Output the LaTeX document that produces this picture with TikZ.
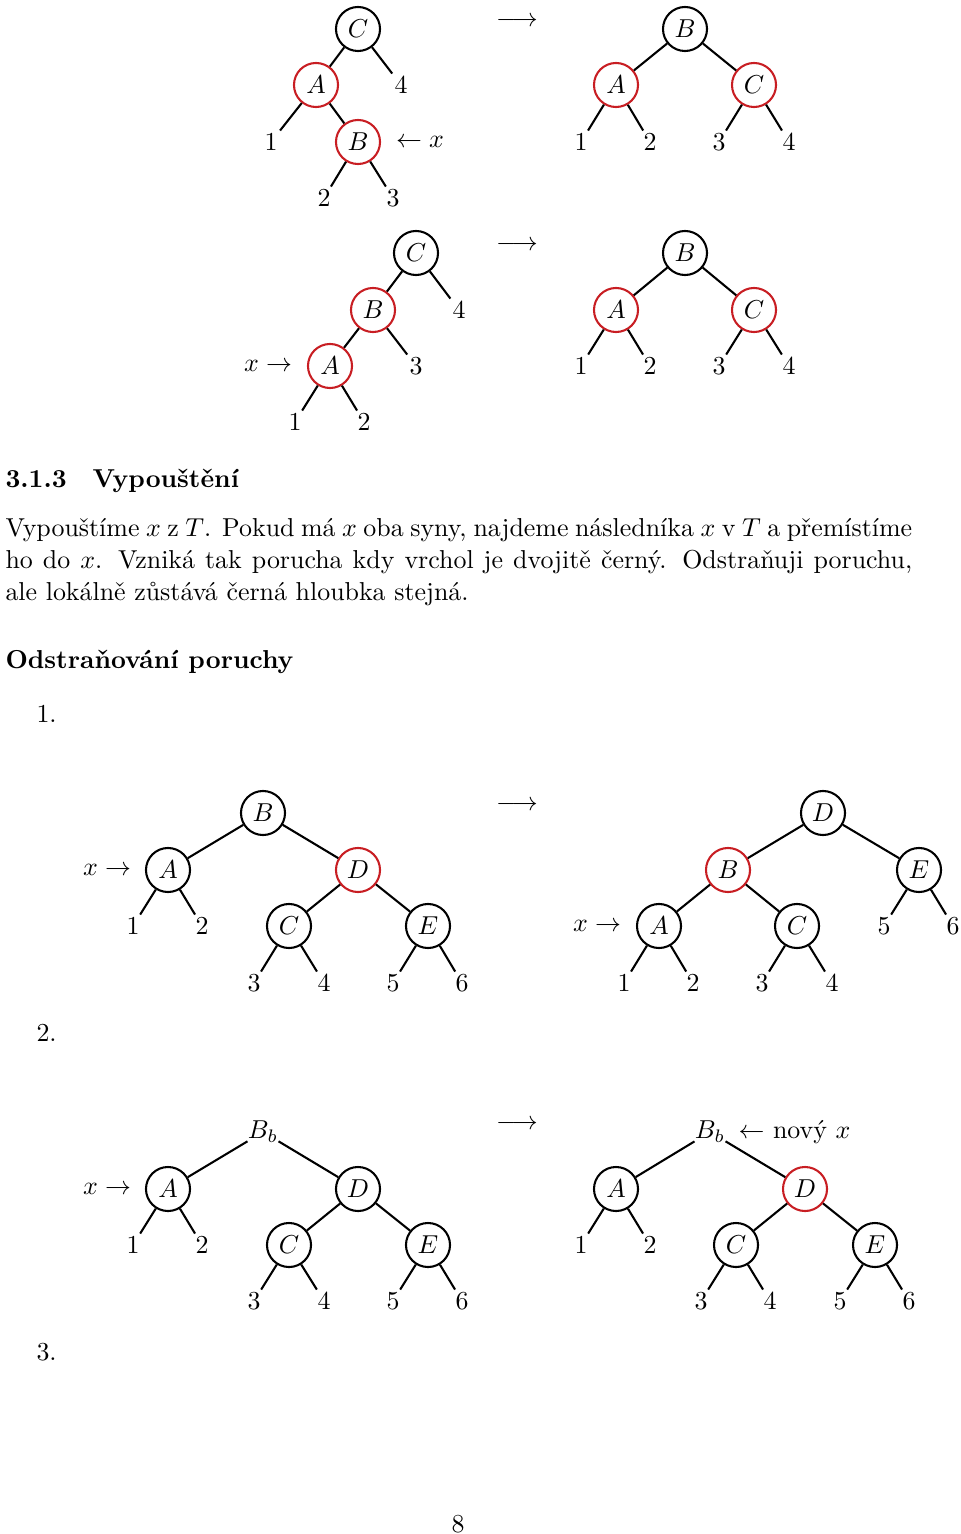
\documentclass[tikz,border=0pt]{standalone}
\usepackage{fontspec}
\definecolor{nodered}{RGB}{200,30,35}
\begin{document}
\begin{tikzpicture}[x=0.386pt,y=-0.386pt,
  every node/.style={inner sep=0pt, font=\fontsize{10}{12}\selectfont},
  bn/.style={circle, draw=black, line width=0.8pt, minimum size=17pt, inner sep=0pt},
  rn/.style={bn, draw=nodered},
  lf/.style={inner sep=1pt},
  ed/.style={line width=0.8pt},
  txt/.style={anchor=base west},
  hd/.style={anchor=base west, font=\fontsize{10}{12}\selectfont\bfseries}]
\useasboundingbox (0,0) rectangle (960,1534);

% ---------- tree 1 left
\node[bn] (a1c) at (358,29) {$C$};
\node[rn] (a1a) at (316,85) {$A$};
\node[lf] (a1l4) at (401,85) {$4$};
\node[lf] (a1l1) at (271,142) {$1$};
\node[rn] (a1b) at (358,142) {$B$};
\node (a1x) at (420,142) {$\leftarrow x$};
\node[lf] (a1l2) at (324,198) {$2$};
\node[lf] (a1l3) at (393,198) {$3$};
\draw[ed] (a1c)--(a1a) (a1c)--(a1l4) (a1a)--(a1l1) (a1a)--(a1b) (a1b)--(a1l2) (a1b)--(a1l3);
\node (ar1) at (517,22) {$\longrightarrow$};
% ---------- tree 1 right
\node[bn] (b1b) at (685,29) {$B$};
\node[rn] (b1a) at (616,85) {$A$};
\node[rn] (b1c) at (754,85) {$C$};
\node[lf] (b1l1) at (581,142) {$1$};
\node[lf] (b1l2) at (650,142) {$2$};
\node[lf] (b1l3) at (719,142) {$3$};
\node[lf] (b1l4) at (789,142) {$4$};
\draw[ed] (b1b)--(b1a) (b1b)--(b1c) (b1a)--(b1l1) (b1a)--(b1l2) (b1c)--(b1l3) (b1c)--(b1l4);

% ---------- tree 2 left
\node[bn] (a2c) at (416,253) {$C$};
\node[rn] (a2b) at (373,310) {$B$};
\node[lf] (a2l4) at (459,310) {$4$};
\node (a2x) at (268,366) {$x\rightarrow$};
\node[rn] (a2a) at (330,366) {$A$};
\node[lf] (a2l3) at (416,366) {$3$};
\node[lf] (a2l1) at (295,422) {$1$};
\node[lf] (a2l2) at (364,422) {$2$};
\draw[ed] (a2c)--(a2b) (a2c)--(a2l4) (a2b)--(a2a) (a2b)--(a2l3) (a2a)--(a2l1) (a2a)--(a2l2);
\node (ar2) at (517,246) {$\longrightarrow$};
% ---------- tree 2 right
\node[bn] (b2b) at (685,253) {$B$};
\node[rn] (b2a) at (616,310) {$A$};
\node[rn] (b2c) at (754,310) {$C$};
\node[lf] (b2l1) at (581,366) {$1$};
\node[lf] (b2l2) at (650,366) {$2$};
\node[lf] (b2l3) at (719,366) {$3$};
\node[lf] (b2l4) at (789,366) {$4$};
\draw[ed] (b2b)--(b2a) (b2b)--(b2c) (b2a)--(b2l1) (b2a)--(b2l2) (b2c)--(b2l3) (b2c)--(b2l4);

% ---------- text
\node[hd] (sec) at (5,488) {3.1.3\quad Vypouštění};
\node[txt] (p1) at (5,536) {\makebox[350pt][s]{Vypouštíme $x$ z $T$. Pokud má $x$ oba syny, najdeme následníka $x$ v $T$ a přemístíme}};
\node[txt] (p2) at (5,568) {\makebox[350pt][s]{ho do $x$. Vzniká tak porucha kdy vrchol je dvojitě černý. Odstraňuji poruchu,}};
\node[txt] (p3) at (5,600) {ale lokálně zůstává černá hloubka stejná.};
\node[hd] (ssec) at (5,668) {Odstraňování poruchy};
\node[txt] (n1) at (36,722) {1.};

% ---------- tree 3 left
\node[bn] (a3b) at (263,813) {$B$};
\node (a3x) at (107,870) {$x\rightarrow$};
\node[bn] (a3a) at (168,870) {$A$};
\node[rn] (a3d) at (358,870) {$D$};
\node[lf] (a3l1) at (133,926) {$1$};
\node[lf] (a3l2) at (202,926) {$2$};
\node[bn] (a3c) at (289,926) {$C$};
\node[bn] (a3e) at (428,926) {$E$};
\node[lf] (a3l3) at (254,983) {$3$};
\node[lf] (a3l4) at (324,983) {$4$};
\node[lf] (a3l5) at (393,983) {$5$};
\node[lf] (a3l6) at (462,983) {$6$};
\draw[ed] (a3b)--(a3a) (a3b)--(a3d) (a3a)--(a3l1) (a3a)--(a3l2) (a3d)--(a3c) (a3d)--(a3e)
  (a3c)--(a3l3) (a3c)--(a3l4) (a3e)--(a3l5) (a3e)--(a3l6);
\node (ar3) at (517,806) {$\longrightarrow$};
% ---------- tree 3 right
\node[bn] (b3d) at (823,813) {$D$};
\node[rn] (b3b) at (728,870) {$B$};
\node[bn] (b3e) at (919,870) {$E$};
\node (b3x) at (597,926) {$x\rightarrow$};
\node[bn] (b3a) at (659,926) {$A$};
\node[bn] (b3c) at (797,926) {$C$};
\node[lf] (b3l5) at (884,926) {$5$};
\node[lf] (b3l6) at (953,926) {$6$};
\node[lf] (b3l1) at (624,983) {$1$};
\node[lf] (b3l2) at (693,983) {$2$};
\node[lf] (b3l3) at (762,983) {$3$};
\node[lf] (b3l4) at (832,983) {$4$};
\draw[ed] (b3d)--(b3b) (b3d)--(b3e) (b3b)--(b3a) (b3b)--(b3c) (b3e)--(b3l5) (b3e)--(b3l6)
  (b3a)--(b3l1) (b3a)--(b3l2) (b3c)--(b3l3) (b3c)--(b3l4);

\node[txt] (n2) at (36,1041) {2.};

% ---------- tree 4 left
\node (a4b) at (263,1132) {$B_b$};
\node (a4x) at (107,1189) {$x\rightarrow$};
\node[bn] (a4a) at (168,1189) {$A$};
\node[bn] (a4d) at (358,1189) {$D$};
\node[lf] (a4l1) at (133,1245) {$1$};
\node[lf] (a4l2) at (202,1245) {$2$};
\node[bn] (a4c) at (289,1245) {$C$};
\node[bn] (a4e) at (428,1245) {$E$};
\node[lf] (a4l3) at (254,1301) {$3$};
\node[lf] (a4l4) at (324,1301) {$4$};
\node[lf] (a4l5) at (393,1301) {$5$};
\node[lf] (a4l6) at (462,1301) {$6$};
\draw[ed] (a4b)--(a4a) (a4b)--(a4d) (a4a)--(a4l1) (a4a)--(a4l2) (a4d)--(a4c) (a4d)--(a4e)
  (a4c)--(a4l3) (a4c)--(a4l4) (a4e)--(a4l5) (a4e)--(a4l6);
\node (ar4) at (517,1125) {$\longrightarrow$};
% ---------- tree 4 right
\node (b4b) at (710,1132) {$B_b$};
\node[anchor=west] (b4x) at (738,1132) {$\leftarrow$ nový $x$};
\node[bn] (b4a) at (616,1189) {$A$};
\node[rn] (b4d) at (805,1189) {$D$};
\node[lf] (b4l1) at (581,1245) {$1$};
\node[lf] (b4l2) at (650,1245) {$2$};
\node[bn] (b4c) at (736,1245) {$C$};
\node[bn] (b4e) at (875,1245) {$E$};
\node[lf] (b4l3) at (701,1301) {$3$};
\node[lf] (b4l4) at (770,1301) {$4$};
\node[lf] (b4l5) at (840,1301) {$5$};
\node[lf] (b4l6) at (909,1301) {$6$};
\draw[ed] (b4b)--(b4a) (b4b)--(b4d) (b4a)--(b4l1) (b4a)--(b4l2) (b4d)--(b4c) (b4d)--(b4e)
  (b4c)--(b4l3) (b4c)--(b4l4) (b4e)--(b4l5) (b4e)--(b4l6);

\node[txt] (n3) at (36,1360) {3.};
\node[anchor=base] (pg) at (458,1532) {8};
\end{tikzpicture}
\end{document}
